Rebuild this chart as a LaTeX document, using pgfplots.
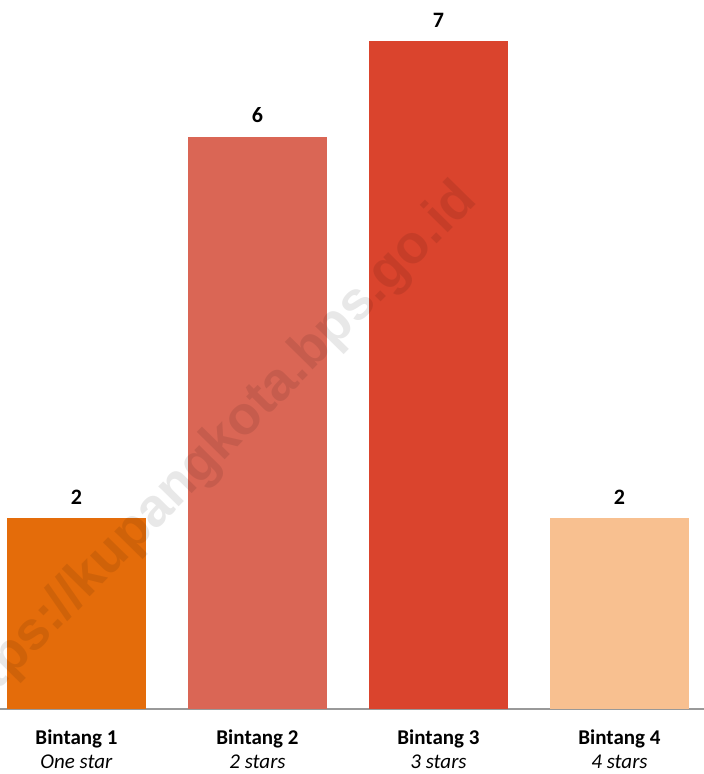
\documentclass[border=0pt]{standalone}
\usepackage{pgfplots}
\pgfplotsset{compat=1.18}
\usepackage{fontspec}
\setmainfont{Carlito}
\newfontfamily\wmfont{Liberation Sans}

\definecolor{bintangA}{RGB}{228,108,10}
\definecolor{bintangB}{RGB}{218,102,85}
\definecolor{bintangC}{RGB}{218,68,45}
\definecolor{bintangD}{RGB}{248,192,144}

\begin{document}
\begin{tikzpicture}
\begin{axis}[
    scale only axis, width=704pt, height=709pt,
    xmin=-0.4227, xmax=3.467, ymin=0, ymax=7.432,
    axis x line*=bottom, axis y line=none,
    x axis line style={draw=black!40, line width=1.5pt},
    xtick={0,1,2,3}, major tick length=0pt,
    xticklabels={{\textbf{Bintang 1}\\\textit{One star}},
                 {\textbf{Bintang 2}\\\textit{2 stars}},
                 {\textbf{Bintang 3}\\\textit{3 stars}},
                 {\textbf{Bintang 4}\\\textit{4 stars}}},
    xticklabel style={align=center, font=\fontsize{21}{24}\selectfont, yshift=-17pt},
    ybar, bar width=139pt, bar shift=0pt,
    nodes near coords,
    /pgf/number format/assume math mode=true,
    nodes near coords style={font=\bfseries\fontsize{22}{24}\selectfont, black, yshift=10pt},
    clip=false,
]
% jumlah hotel berbintang
\addplot[fill=bintangA, draw=none] coordinates {(0,2)};
\addplot[fill=bintangB, draw=none] coordinates {(1,6)};
\addplot[fill=bintangC, draw=none] coordinates {(2,7)};
\addplot[fill=bintangD, draw=none] coordinates {(3,2)};
% watermark
\node[rotate=45.5, text=black, opacity=0.09, font=\wmfont\bfseries\fontsize{54}{58}\selectfont]
    at (axis cs:0.74,2.66) {https://kupangkota.bps.go.id};
\end{axis}
\pgfresetboundingbox
\path (current axis.south west) ++(0,-65pt) rectangle (current axis.north east);
\end{tikzpicture}
\end{document}
